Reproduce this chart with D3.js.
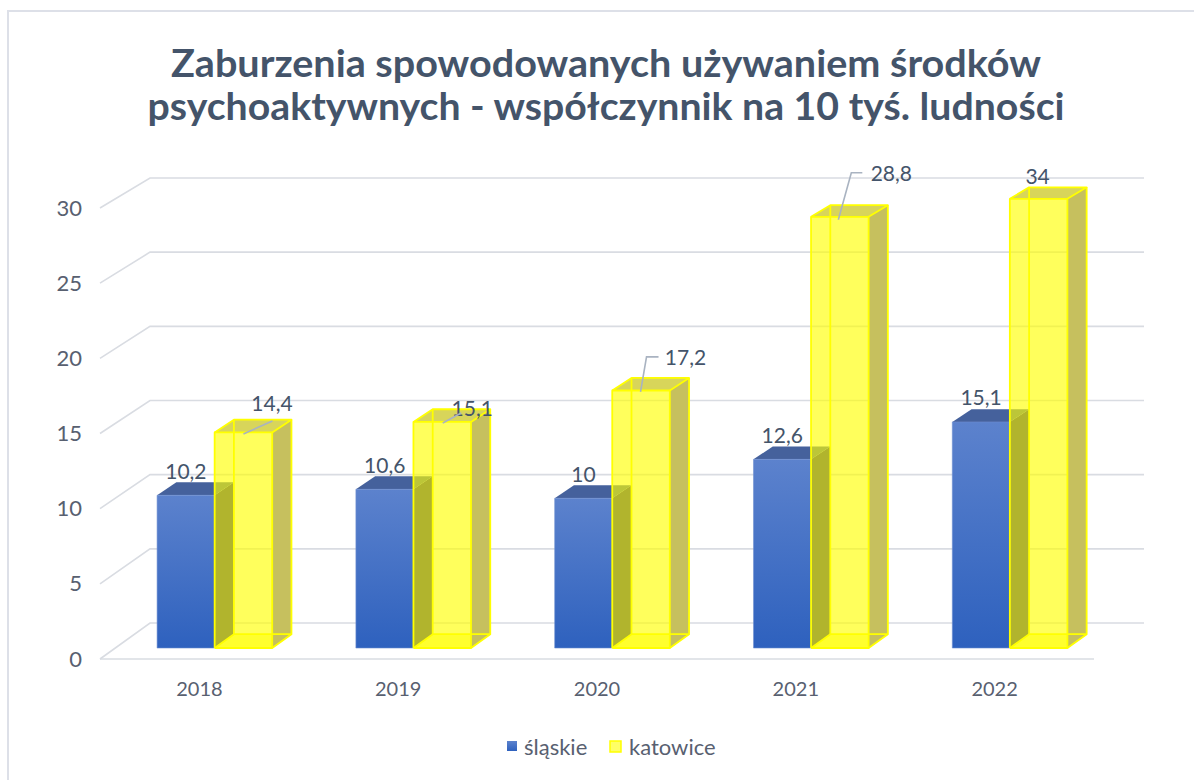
<!DOCTYPE html>
<html><head><meta charset="utf-8">
<script src="https://cdn.jsdelivr.net/npm/d3@7/dist/d3.min.js"></script>
<style>
html,body{margin:0;padding:0;background:#fff;}
svg{display:block;font-family:Lato,"Open Sans",sans-serif;}
</style></head>
<body><svg id="c" width="1194" height="780"></svg>
<script>
// ---- data ----
const years = ["2018", "2019", "2020", "2021", "2022"];
const seriesNames = ["śląskie", "katowice"];
const slaskie = [10.2, 10.6, 10, 12.6, 15.1];
const katowice = [14.4, 15.1, 17.2, 28.8, 34];
const yTicks = [0, 5, 10, 15, 20, 25, 30];
const titleLines = ["Zaburzenia spowodowanych używaniem środków",
                    "psychoaktywnych - współczynnik na 10 tyś. ludności"];

// ---- layout (label offsets for the dragged katowice labels) ----
const katLabelLayout = [
  {dx: 28.5, dy: -28.5, leader: [[0, 1.5], [29, -11.5]]},
  {dx: 30, dy: -13, leader: [[0.5, 1], [19, -9]]},
  {dx: 44.5, dy: -32.6, leader: [[-0.5, 1.4], [5.5, -33.6], [17.5, -33.6]]},
  {dx: 51.5, dy: -43, leader: [[-1.5, 3], [11.5, -44], [22.5, -44]]},
  {dx: -1, dy: -22, leader: null}
];

const svg = d3.select("#c");
const fmt = v => String(v).replace(".", ",");

// border
svg.append("rect").attr("x", 8).attr("y", 11).attr("width", 1300).attr("height", 900)
  .attr("fill", "none").attr("stroke", "#DDE0E8").attr("stroke-width", 2);

// title
const title = svg.append("g").attr("fill", "#44546A").attr("font-weight", 700)
  .attr("font-size", 38).attr("text-anchor", "middle");
title.append("text").attr("x", 606).attr("y", 77).attr("textLength", 870)
  .attr("lengthAdjust", "spacingAndGlyphs").text(titleLines[0]);
title.append("text").attr("x", 606).attr("y", 120).attr("textLength", 917)
  .attr("lengthAdjust", "spacingAndGlyphs").text(titleLines[1]);

// scales: front plane and back wall
const yMax = 30;
const yF = d3.scaleLinear().domain([0, yMax]).range([659, 208]).clamp(true);
const yB = d3.scaleLinear().domain([0, yMax]).range([623, 178]).clamp(true);
const depthX = 50;
const x = d3.scaleBand().domain(years).range([100, 1094]);
const pairW = x.bandwidth() * 0.579;
const xi = d3.scaleBand().domain(seriesNames).range([0, pairW]);
const pairOff = (x.bandwidth() - pairW) / 2;
const z0 = 0.305, z1 = 0.69;
const P = (xf, v, z) => [xf + z * depthX, yF(v) * (1 - z) + yB(v) * z];
const poly = pts => pts.map(p => p.join(",")).join(" ");

// gridlines
const grid = svg.append("g").attr("fill", "none").attr("stroke", "#D9DCE2").attr("stroke-width", 1.6);
const x0 = x.range()[0], x1 = x.range()[1];
yTicks.forEach(t => {
  grid.append("polyline").attr("points", poly([P(x0, t, 0), P(x0, t, 1), P(x1, t, 1)]));
});
grid.append("line").attr("x1", P(x0, 0, 0)[0]).attr("y1", P(x0, 0, 0)[1])
  .attr("x2", P(x1, 0, 0)[0]).attr("y2", P(x1, 0, 0)[1]);

// axes
const yAxis = svg.append("g").attr("transform", "translate(88,0)")
  .call(d3.axisLeft(yF).tickValues(yTicks).tickSize(0).tickPadding(6));
yAxis.select(".domain").remove();
yAxis.selectAll("text").attr("font-size", 22).attr("fill", "#586070").attr("font-family", "Lato,sans-serif");

const xAxis = svg.append("g").attr("transform", "translate(0," + yF(0) + ")")
  .call(d3.axisBottom(x).tickSize(0).tickPadding(23));
xAxis.select(".domain").remove();
xAxis.selectAll("text").attr("font-size", 20).attr("fill", "#586070").attr("font-family", "Lato,sans-serif");

// gradient
const defs = svg.append("defs");
const g1 = defs.append("linearGradient").attr("id", "blueGrad").attr("x1", 0).attr("y1", 0).attr("x2", 0).attr("y2", 1);
g1.append("stop").attr("offset", "0%").attr("stop-color", "#5C82CD");
g1.append("stop").attr("offset", "100%").attr("stop-color", "#2E61BE");

// bars
const bars = svg.append("g");
years.forEach((yr, i) => {
  // śląskie
  const bx0 = x(yr) + pairOff + xi("śląskie");
  const bx1 = bx0 + xi.bandwidth();
  const v = slaskie[i];
  const gb = bars.append("g");
  gb.append("polygon").attr("points", poly([P(bx1, 0, z0), P(bx1, v, z0), P(bx1, v, z1), P(bx1, 0, z1)]))
    .attr("fill", "#272F7E");
  gb.append("polygon").attr("points", poly([P(bx0, v, z0), P(bx1, v, z0), P(bx1, v, z1), P(bx0, v, z1)]))
    .attr("fill", "#45619C");
  gb.append("polygon").attr("points", poly([P(bx0, 0, z0), P(bx1, 0, z0), P(bx1, v, z0), P(bx0, v, z0)]))
    .attr("fill", "url(#blueGrad)").attr("stroke", "#6E8FD0").attr("stroke-width", 0.6);

  // katowice
  const kx0 = x(yr) + pairOff + xi("katowice");
  const kx1 = kx0 + xi.bandwidth();
  const k = katowice[i];
  const gk = bars.append("g");
  gk.append("polygon").attr("points", poly([P(kx0, 0, z0), P(kx1, 0, z0), P(kx1, 0, z1), P(kx0, 0, z1)]))
    .attr("fill", "#FFFF00").attr("opacity", 0.5);
  gk.append("polygon").attr("points", poly([P(kx1, 0, z0), P(kx1, k, z0), P(kx1, k, z1), P(kx1, 0, z1)]))
    .attr("fill", "#C6C05E");
  gk.append("polygon").attr("points", poly([P(kx0, k, z0), P(kx1, k, z0), P(kx1, k, z1), P(kx0, k, z1)]))
    .attr("fill", "#D8D55A");
  gk.append("polygon").attr("points", poly([P(kx0, 0, z0), P(kx1, 0, z0), P(kx1, k, z0), P(kx0, k, z0)]))
    .attr("fill", "#FFFF00").attr("fill-opacity", 0.64);
  const edges = [
    [P(kx0, 0, z0), P(kx1, 0, z0), P(kx1, k, z0), P(kx0, k, z0), P(kx0, 0, z0)],
    [P(kx0, k, z0), P(kx0, k, z1), P(kx1, k, z1), P(kx1, k, z0)],
    [P(kx1, k, z1), P(kx1, 0, z1), P(kx1, 0, z0)],
    [P(kx0, 0, z0), P(kx0, 0, z1), P(kx1, 0, z1)],
    [P(kx0, 0, z1), P(kx0, k, z1)]
  ];
  edges.forEach(e => gk.append("polyline").attr("points", poly(e)).attr("fill", "none")
    .attr("stroke", "#FFFF00").attr("stroke-width", 1.8).attr("stroke-linejoin", "round"));
});

// data labels
const labels = svg.append("g").attr("font-size", 21).attr("fill", "#44546A").attr("text-anchor", "middle");
years.forEach((yr, i) => {
  const bx0 = x(yr) + pairOff + xi("śląskie");
  const [fx, fy] = P(bx0 + xi.bandwidth() / 2, slaskie[i], z0);
  labels.append("text").attr("x", fx).attr("y", fy - 24).attr("dy", "0.35em").text(fmt(slaskie[i]));

  const kx0 = x(yr) + pairOff + xi("katowice");
  const [cx, cy] = P(kx0 + xi.bandwidth() / 2, katowice[i], z0);
  const L = katLabelLayout[i];
  if (L.leader) {
    svg.append("polyline").attr("points", poly(L.leader.map(p => [cx + p[0], cy + p[1]])))
      .attr("fill", "none").attr("stroke", "#A9B3C1").attr("stroke-width", 1.6);
  }
  labels.append("text").attr("x", cx + L.dx).attr("y", cy + L.dy).attr("dy", "0.35em").text(fmt(katowice[i]));
});

// legend
const leg = svg.append("g").attr("font-size", 22).attr("fill", "#586070");
leg.append("rect").attr("x", 507).attr("y", 741).attr("width", 10).attr("height", 10).attr("fill", "url(#blueGrad)");
leg.append("text").attr("x", 524).attr("y", 747).attr("dy", "0.35em").text(seriesNames[0]);
leg.append("rect").attr("x", 610).attr("y", 741).attr("width", 11).attr("height", 11)
  .attr("fill", "#FFFF66").attr("stroke", "#FFFF00").attr("stroke-width", 1.5);
leg.append("text").attr("x", 629).attr("y", 747).attr("dy", "0.35em").text(seriesNames[1]);
</script></body></html>
